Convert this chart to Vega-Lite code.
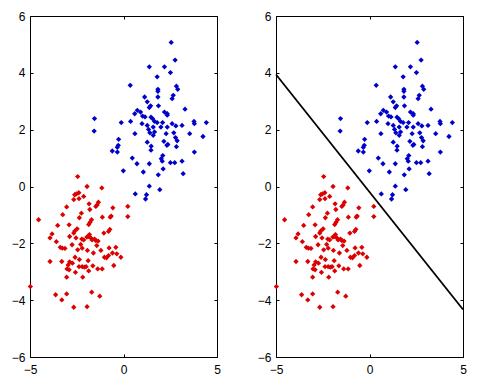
{
  "$schema": "https://vega.github.io/schema/vega-lite/v6.json",
  "padding": {"left": 10, "top": 9, "right": 5, "bottom": 5},
  "background": "white",
  "bounds": "flush",
  "spacing": 59,
  "config": {
    "view": {"stroke": "black", "strokeWidth": 1},
    "axis": {
      "domain": false, "grid": false, "title": null,
      "tickSize": -3, "tickColor": "black", "tickWidth": 1,
      "labelFont": "Liberation Sans", "labelFontSize": 12, "labelColor": "black",
      "labelFlush": false, "labelOverlap": false, "labelPadding": 8
    },
    "axisX": {"labelPadding": 10}
  },
  "datasets": {
    "pts": [
      {"x":-2.45,"y":0.35,"c":"r"},{"x":-1.95,"y":0.0,"c":"r"},{"x":-1.16,"y":-0.05,"c":"r"},{"x":-2.52,"y":-0.26,"c":"r"},
      {"x":-2.39,"y":-0.22,"c":"r"},{"x":-2.61,"y":-0.29,"c":"r"},{"x":-2.13,"y":-0.35,"c":"r"},{"x":-2.66,"y":-0.46,"c":"r"},
      {"x":-2.38,"y":-0.43,"c":"r"},{"x":-1.84,"y":-0.61,"c":"r"},{"x":-1.34,"y":-0.55,"c":"r"},{"x":-1.41,"y":-0.65,"c":"r"},
      {"x":-1.48,"y":-0.70,"c":"r"},{"x":0.23,"y":-0.70,"c":"r"},{"x":-3.04,"y":-0.72,"c":"r"},{"x":-1.80,"y":-0.81,"c":"r"},
      {"x":-2.25,"y":-0.94,"c":"r"},{"x":-0.57,"y":-0.75,"c":"r"},{"x":-3.25,"y":-0.99,"c":"r"},{"x":-2.36,"y":-1.10,"c":"r"},
      {"x":-4.54,"y":-1.17,"c":"r"},{"x":-1.71,"y":-1.17,"c":"r"},{"x":-1.79,"y":-1.26,"c":"r"},{"x":-1.13,"y":-1.08,"c":"r"},
      {"x":-0.71,"y":-1.08,"c":"r"},{"x":-0.66,"y":-1.04,"c":"r"},{"x":0.23,"y":-1.06,"c":"r"},{"x":-1.86,"y":-1.34,"c":"r"},
      {"x":-2.91,"y":-1.35,"c":"r"},{"x":-3.52,"y":-1.37,"c":"r"},{"x":-2.66,"y":-1.64,"c":"r"},{"x":-2.61,"y":-1.57,"c":"r"},
      {"x":-2.48,"y":-1.49,"c":"r"},{"x":-0.73,"y":-1.51,"c":"r"},{"x":-0.80,"y":-1.58,"c":"r"},{"x":-1.05,"y":-1.64,"c":"r"},
      {"x":-3.82,"y":-1.67,"c":"r"},{"x":-3.93,"y":-1.81,"c":"r"},{"x":-2.88,"y":-1.76,"c":"r"},{"x":-2.23,"y":-1.85,"c":"r"},
      {"x":-2.13,"y":-1.88,"c":"r"},{"x":-1.96,"y":-1.78,"c":"r"},{"x":-1.86,"y":-1.76,"c":"r"},{"x":-1.82,"y":-1.69,"c":"r"},
      {"x":-1.73,"y":-1.82,"c":"r"},{"x":-1.68,"y":-1.88,"c":"r"},{"x":-1.55,"y":-1.85,"c":"r"},{"x":-1.48,"y":-1.90,"c":"r"},
      {"x":-1.36,"y":-1.92,"c":"r"},{"x":-2.54,"y":-1.81,"c":"r"},{"x":-3.59,"y":-1.94,"c":"r"},{"x":-2.29,"y":-2.04,"c":"r"},
      {"x":-2.75,"y":-2.05,"c":"r"},{"x":-3.38,"y":-2.14,"c":"r"},{"x":-3.27,"y":-2.17,"c":"r"},{"x":-3.13,"y":-2.18,"c":"r"},
      {"x":-1.43,"y":-2.08,"c":"r"},{"x":-1.21,"y":-2.25,"c":"r"},{"x":-1.93,"y":-2.25,"c":"r"},{"x":-2.21,"y":-2.17,"c":"r"},
      {"x":-0.77,"y":-2.16,"c":"r"},{"x":-0.41,"y":-2.14,"c":"r"},{"x":-0.59,"y":-2.34,"c":"r"},{"x":-0.36,"y":-2.37,"c":"r"},
      {"x":-1.61,"y":-2.34,"c":"r"},{"x":-2.45,"y":-2.23,"c":"r"},{"x":-2.59,"y":-2.49,"c":"r"},{"x":-2.36,"y":-2.57,"c":"r"},
      {"x":-3.93,"y":-2.64,"c":"r"},{"x":-3.30,"y":-2.64,"c":"r"},{"x":-1.89,"y":-2.61,"c":"r"},{"x":-2.88,"y":-2.65,"c":"r"},
      {"x":-1.02,"y":-2.49,"c":"r"},{"x":-0.91,"y":-2.51,"c":"r"},{"x":-0.80,"y":-2.43,"c":"r"},{"x":-0.14,"y":-2.49,"c":"r"},
      {"x":-2.96,"y":-2.76,"c":"r"},{"x":-2.73,"y":-2.70,"c":"r"},{"x":-3.02,"y":-2.90,"c":"r"},{"x":-2.91,"y":-2.93,"c":"r"},
      {"x":-2.57,"y":-3.02,"c":"r"},{"x":-2.38,"y":-2.82,"c":"r"},{"x":-2.21,"y":-2.82,"c":"r"},{"x":-2.09,"y":-2.84,"c":"r"},
      {"x":-2.00,"y":-2.82,"c":"r"},{"x":-1.86,"y":-2.97,"c":"r"},{"x":-1.64,"y":-2.79,"c":"r"},{"x":-1.38,"y":-2.90,"c":"r"},
      {"x":-1.14,"y":-2.90,"c":"r"},{"x":-0.52,"y":-2.78,"c":"r"},{"x":-3.04,"y":-3.19,"c":"r"},{"x":-2.18,"y":-3.19,"c":"r"},
      {"x":-4.98,"y":-3.52,"c":"r"},{"x":-3.63,"y":-3.81,"c":"r"},{"x":-3.30,"y":-3.99,"c":"r"},{"x":-3.04,"y":-3.78,"c":"r"},
      {"x":-1.70,"y":-3.72,"c":"r"},{"x":-1.27,"y":-3.86,"c":"r"},{"x":-2.66,"y":-4.25,"c":"r"},{"x":-1.95,"y":-4.23,"c":"r"},
      {"x":2.55,"y":5.07,"c":"b"},{"x":2.76,"y":4.45,"c":"b"},{"x":1.38,"y":4.21,"c":"b"},{"x":2.19,"y":4.21,"c":"b"},
      {"x":2.51,"y":4.01,"c":"b"},{"x":1.80,"y":3.86,"c":"b"},{"x":0.36,"y":3.56,"c":"b"},{"x":2.83,"y":3.53,"c":"b"},
      {"x":2.90,"y":3.42,"c":"b"},{"x":1.84,"y":3.42,"c":"b"},{"x":1.84,"y":3.35,"c":"b"},{"x":2.66,"y":3.21,"c":"b"},
      {"x":2.60,"y":3.09,"c":"b"},{"x":1.13,"y":3.15,"c":"b"},{"x":1.84,"y":3.15,"c":"b"},{"x":1.27,"y":2.98,"c":"b"},
      {"x":1.45,"y":2.84,"c":"b"},{"x":1.38,"y":2.78,"c":"b"},{"x":1.87,"y":2.84,"c":"b"},{"x":3.29,"y":2.72,"c":"b"},
      {"x":0.74,"y":2.68,"c":"b"},{"x":0.91,"y":2.62,"c":"b"},{"x":0.60,"y":2.56,"c":"b"},{"x":2.19,"y":2.62,"c":"b"},
      {"x":2.34,"y":2.56,"c":"b"},{"x":2.34,"y":2.51,"c":"b"},{"x":1.15,"y":2.45,"c":"b"},{"x":1.02,"y":2.48,"c":"b"},
      {"x":1.47,"y":2.44,"c":"b"},{"x":1.55,"y":2.39,"c":"b"},{"x":1.66,"y":2.29,"c":"b"},{"x":-1.55,"y":2.39,"c":"b"},
      {"x":0.38,"y":2.29,"c":"b"},{"x":-0.12,"y":2.25,"c":"b"},{"x":0.99,"y":2.21,"c":"b"},{"x":1.80,"y":2.25,"c":"b"},
      {"x":2.09,"y":2.25,"c":"b"},{"x":1.27,"y":2.15,"c":"b"},{"x":2.00,"y":2.09,"c":"b"},{"x":1.59,"y":2.09,"c":"b"},
      {"x":2.34,"y":2.09,"c":"b"},{"x":2.60,"y":2.21,"c":"b"},{"x":2.80,"y":2.13,"c":"b"},{"x":3.13,"y":2.15,"c":"b"},
      {"x":3.77,"y":2.29,"c":"b"},{"x":3.79,"y":2.21,"c":"b"},{"x":4.43,"y":2.25,"c":"b"},{"x":1.34,"y":2.01,"c":"b"},
      {"x":1.41,"y":1.89,"c":"b"},{"x":1.66,"y":1.92,"c":"b"},{"x":2.28,"y":1.86,"c":"b"},{"x":2.69,"y":1.89,"c":"b"},
      {"x":3.54,"y":1.86,"c":"b"},{"x":0.61,"y":1.86,"c":"b"},{"x":1.59,"y":1.80,"c":"b"},{"x":2.78,"y":1.72,"c":"b"},
      {"x":4.25,"y":1.76,"c":"b"},{"x":-1.57,"y":1.95,"c":"b"},{"x":1.27,"y":1.56,"c":"b"},{"x":2.16,"y":1.59,"c":"b"},
      {"x":2.37,"y":1.48,"c":"b"},{"x":-0.26,"y":1.66,"c":"b"},{"x":2.87,"y":1.61,"c":"b"},{"x":2.32,"y":1.45,"c":"b"},
      {"x":-0.28,"y":1.45,"c":"b"},{"x":-0.33,"y":1.38,"c":"b"},{"x":-0.60,"y":1.25,"c":"b"},{"x":-0.33,"y":1.21,"c":"b"},
      {"x":1.48,"y":1.42,"c":"b"},{"x":1.47,"y":1.28,"c":"b"},{"x":2.83,"y":1.40,"c":"b"},{"x":3.79,"y":1.21,"c":"b"},
      {"x":2.10,"y":1.09,"c":"b"},{"x":0.47,"y":1.00,"c":"b"},{"x":2.02,"y":0.98,"c":"b"},{"x":2.07,"y":0.89,"c":"b"},
      {"x":3.13,"y":0.89,"c":"b"},{"x":2.51,"y":0.84,"c":"b"},{"x":2.74,"y":0.84,"c":"b"},{"x":0.72,"y":0.80,"c":"b"},
      {"x":-0.01,"y":0.55,"c":"b"},{"x":1.06,"y":0.51,"c":"b"},{"x":1.86,"y":0.41,"c":"b"},{"x":2.12,"y":0.62,"c":"b"},
      {"x":3.19,"y":0.45,"c":"b"},{"x":1.38,"y":0.80,"c":"b"},{"x":1.38,"y":0.01,"c":"b"},{"x":1.94,"y":-0.11,"c":"b"},
      {"x":0.63,"y":-0.26,"c":"b"},{"x":1.23,"y":-0.29,"c":"b"},{"x":1.18,"y":-0.44,"c":"b"}
    ],
    "line": [{"x": -5, "y": 3.94}, {"x": 5, "y": -4.33}]
  },
  "hconcat": [
    {
      "width": 187, "height": 341,
      "resolve": {"axis": {"x": "independent", "y": "independent"}},
      "layer": [
        {
          "data": {"name": "pts"},
          "mark": {"type": "point", "shape": "diamond", "filled": true, "size": 28, "opacity": 1},
          "encoding": {
            "x": {"field": "x", "type": "quantitative", "scale": {"domain": [-5, 5], "nice": false, "zero": false}, "axis": {"orient": "bottom", "values": [-5, 0, 5]}},
            "y": {"field": "y", "type": "quantitative", "scale": {"domain": [-6, 6], "nice": false, "zero": false}, "axis": {"orient": "left", "values": [-6, -4, -2, 0, 2, 4, 6]}},
            "color": {"field": "c", "type": "nominal", "scale": {"domain": ["r", "b"], "range": ["#dc0000", "#0000cc"]}, "legend": null}
          }
        },
        {
          "data": {"name": "line"},
          "mark": {"type": "point", "opacity": 0},
          "encoding": {
            "x": {"field": "x", "type": "quantitative", "axis": {"orient": "top", "values": [-5, 0, 5], "labels": false}},
            "y": {"field": "y", "type": "quantitative", "axis": {"orient": "right", "values": [-6, -4, -2, 0, 2, 4, 6], "labels": false}}
          }
        }
      ]
    },
    {
      "width": 187, "height": 341,
      "resolve": {"axis": {"x": "independent", "y": "independent"}},
      "layer": [
        {
          "data": {"name": "pts"},
          "mark": {"type": "point", "shape": "diamond", "filled": true, "size": 28, "opacity": 1},
          "encoding": {
            "x": {"field": "x", "type": "quantitative", "scale": {"domain": [-5, 5], "nice": false, "zero": false}, "axis": {"orient": "bottom", "values": [-5, 0, 5]}},
            "y": {"field": "y", "type": "quantitative", "scale": {"domain": [-6, 6], "nice": false, "zero": false}, "axis": {"orient": "left", "values": [-6, -4, -2, 0, 2, 4, 6]}},
            "color": {"field": "c", "type": "nominal", "scale": {"domain": ["r", "b"], "range": ["#dc0000", "#0000cc"]}, "legend": null}
          }
        },
        {
          "data": {"name": "line"},
          "mark": {"type": "line", "color": "black", "strokeWidth": 1.8},
          "encoding": {
            "x": {"field": "x", "type": "quantitative", "axis": {"orient": "top", "values": [-5, 0, 5], "labels": false}},
            "y": {"field": "y", "type": "quantitative", "axis": {"orient": "right", "values": [-6, -4, -2, 0, 2, 4, 6], "labels": false}}
          }
        }
      ]
    }
  ]
}
